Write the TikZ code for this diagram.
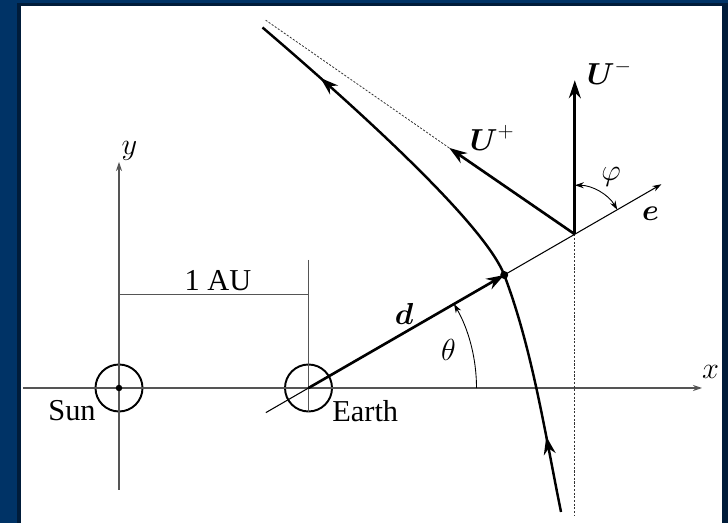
\documentclass[tikz,border=0pt]{standalone}
\usepackage{amsmath,amssymb}
\usepackage{fontspec}
\setmainfont{Liberation Serif}
\usepackage{tikz}
\usetikzlibrary{arrows.meta,positioning,calc,decorations.markings}
\definecolor{framebg}{RGB}{0,51,102}
\definecolor{frameedge}{RGB}{0,28,58}
\definecolor{axgray}{RGB}{85,85,85}

\tikzset{
  flowtip/.tip={Stealth[length=3.6mm,width=2.4mm]},
  smalltip/.tip={Stealth[length=1.8mm,width=1.2mm]},
  axis/.style={axgray, line width=0.7pt, -smalltip},
  thinln/.style={axgray, line width=0.6pt},
  eline/.style={line width=0.6pt},
  vecln/.style={line width=1.5pt, -flowtip},
  traj/.style={line width=1.4pt},
  asym/.style={black!80, line width=0.45pt, dash pattern=on 1.2pt off 0.9pt},
  body/.style={draw, circle, line width=1.1pt, minimum size=9.4mm, inner sep=0pt},
  lbl/.style={font=\LARGE, inner sep=0pt},
}

\begin{document}
\begin{tikzpicture}
 % frame
 \fill[framebg] (-2.38,-2.70) rectangle (12.18,7.76);
 \fill[frameedge] (-2.04,-2.70) rectangle (12.18,7.70);
 \fill[white] (-1.96,-2.70) rectangle (12.06,7.64);
 % sun, earth and points on e
 \node[body] (sun) at (0,0) {};
 \node[body] (earth) at (3.79,0) {};
 \coordinate (dd) at ($(earth.center)+(30:4.52)$);
 \coordinate (pp) at ($(earth.center)+(30:6.15)$);
 \coordinate (eback) at ($(earth.center)+(210:0.985)$);
 \coordinate (etip) at ($(earth.center)+(30:8.15)$);
 \coordinate (xl) at (-1.92,0);
 \coordinate (xr) at (11.66,0);
 \coordinate (yb) at (0,-2.04);
 \coordinate (yt) at (0,4.52);
 \coordinate (aus) at (0,1.87);
 \coordinate (aue) at (3.79,1.87);
 \coordinate (autop) at (3.79,2.56);
 \coordinate (uminus) at ($(pp)+(0,3.08)$);
 \coordinate (uplus) at ($(pp)+(145.5:3.05)$);
 \coordinate (uext) at ($(pp)+(145.3:7.55)$);
 \coordinate (vbot) at ($(pp|-yb)+(0,-0.5)$);
 \coordinate (tb) at (8.84,-2.48);
 \coordinate (tt) at (2.87,7.21);
 % axes
 \draw[axis] (xl) -- (xr);
 \draw[axis] (yb) -- (yt);
 \node[lbl] (xlbl) at (11.83,0.32) {$x$};
 \node[lbl] (ylbl) at (0.21,4.75) {$y$};
 % 1 AU
 \draw[thinln] (aus) -- (aue);
 \draw[thinln] (autop) -- (earth.south);
 \node[lbl] (aulbl) at (1.98,2.15) {1 AU};
 \fill (sun.center) circle (0.065);
 \node[lbl] (sunlbl) at (-0.94,-0.46) {Sun};
 \node[lbl, anchor=west] (earthlbl) at (4.26,-0.46) {Earth};
 % e direction
 \draw[eline, -smalltip] (eback) -- (etip);
 \node[lbl] (elbl) at (10.63,3.49) {$\boldsymbol{e}$};
 \draw[vecln] (earth.center) -- (dd);
 \fill (dd) circle (0.08);
 \node[lbl] (dlbl) at (5.70,1.49) {$\boldsymbol{d}$};
 \draw[line width=0.5pt, -smalltip] ($(earth.center)+(0:3.36)$) arc[start angle=0, end angle=30, radius=3.36];
 \node[lbl] (thlbl) at (6.59,0.77) {$\theta$};
 % asymptotes
 \draw[asym] (pp) -- (vbot);
 \draw[asym] (uplus) -- (uext);
 % velocities
 \draw[vecln] (pp) -- (uminus);
 \draw[vecln] (pp) -- (uplus);
 \node[lbl, anchor=base west] (umlbl) at (9.35,6.06) {$\boldsymbol{U}^-$};
 \node[lbl, anchor=base west] (uplbl) at (7.01,4.75) {$\boldsymbol{U}^+$};
 \draw[line width=0.5pt, smalltip-smalltip] ($(pp)+(30:0.98)$) arc[start angle=30, end angle=90, radius=0.98];
 \node[lbl] (phlbl) at (9.84,4.23) {$\varphi$};
 % trajectory
 \draw[traj, postaction={decorate}, decoration={markings,
     mark=at position 0.13 with {\arrow{flowtip}},
     mark=at position 0.87 with {\arrow{flowtip}}}]
   (tb) .. controls (8.52,-0.90) and (8.26,0.80) .. (dd)
        .. controls (7.34,3.20) and (5.15,5.26) .. (tt);
\end{tikzpicture}
\end{document}
